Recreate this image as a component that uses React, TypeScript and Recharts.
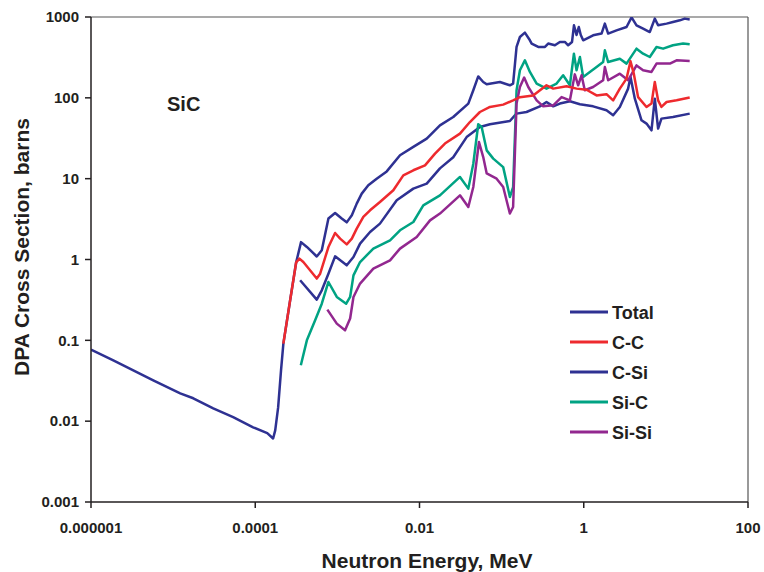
import React from 'react';
import { LineChart, Line, XAxis, YAxis, ReferenceLine } from 'recharts';

// [neutron energy (MeV), DPA cross section (barns)]
const totalPts: [number, number][] = [
  [1e-6, 0.0767], [1.87e-6, 0.0566], [5.73e-6, 0.032], [1.22e-5, 0.0221], [1.76e-5, 0.0192],
  [3.08e-5, 0.0144], [5.38e-5, 0.0112], [9.42e-5, 0.0084], [1.4e-4, 0.0071], [1.65e-4, 0.0061],
  [1.75e-4, 0.0077], [1.9e-4, 0.0148], [2.06e-4, 0.0426], [2.2e-4, 0.091], [2.66e-4, 0.313],
  [3.15e-4, 0.923], [3.61e-4, 1.64], [4.25e-4, 1.43], [5.61e-4, 1.09], [6.46e-4, 1.3],
  [7.78e-4, 3.21], [9.38e-4, 3.76], [1.13e-3, 3.21], [1.3e-3, 2.88], [1.5e-3, 3.52],
  [1.72e-3, 4.91], [1.98e-3, 6.53], [2.38e-3, 8.28], [3.01e-3, 10.0], [3.99e-3, 12.3],
  [5.79e-3, 19.5], [8.41e-3, 24.7], [0.01225, 31.3], [0.01774, 45.7], [0.02576, 57.9],
  [0.0393, 84.9], [0.0452, 124], [0.0519, 184], [0.0597, 157], [0.0658, 147],
  [0.0953, 157], [0.126, 143], [0.138, 150], [0.152, 426], [0.167, 566],
  [0.192, 641], [0.221, 515], [0.232, 469], [0.279, 426], [0.337, 426],
  [0.369, 469], [0.445, 447], [0.512, 491], [0.589, 491], [0.646, 447],
  [0.72, 491], [0.76, 789], [0.817, 600], [0.87, 752], [0.92, 600],
  [0.984, 515], [1.3, 594], [1.648, 624], [1.807, 828], [1.982, 624],
  [2.506, 684], [3.32, 752], [3.82, 990], [4.39, 789], [5.28, 718],
  [6.37, 652], [7.33, 955], [8.04, 789], [10.2, 828], [12.2, 867],
  [14.8, 910], [17.0, 955], [19.5, 929],
];

const ccPts: [number, number][] = [
  [2.2e-4, 0.091], [2.66e-4, 0.313], [3.15e-4, 0.923], [3.45e-4, 1.026], [3.85e-4, 0.931],
  [5.61e-4, 0.581], [6.17e-4, 0.668], [7.78e-4, 1.426], [9.38e-4, 2.13], [1.08e-3, 1.81],
  [1.3e-3, 1.54], [1.5e-3, 1.81], [1.72e-3, 2.41], [2.07e-3, 3.36], [2.5e-3, 4.06],
  [3.3e-3, 5.14], [4.8e-3, 7.18], [6.35e-3, 11.0], [8.41e-3, 12.7], [0.01167, 14.6],
  [0.01545, 20.4], [0.0204, 27.2], [0.0311, 36.1], [0.0411, 50.2], [0.0544, 66.8],
  [0.0721, 77.1], [0.1045, 82.4], [0.138, 93.1], [0.167, 102], [0.242, 107],
  [0.352, 143], [0.425, 130], [0.618, 139], [0.817, 130], [1.081, 126],
  [1.432, 107], [1.892, 111], [2.28, 93.1], [2.75, 130], [3.32, 173],
  [3.71, 283], [4.07, 199], [4.59, 102], [5.81, 77.1], [6.68, 84.9],
  [7.33, 157], [8.04, 93.1], [8.83, 77.1], [10.2, 88.8], [13.5, 93.1], [19.5, 101],
];

const csiPts: [number, number][] = [
  [3.52e-4, 0.553], [5.61e-4, 0.319], [6.46e-4, 0.416], [7.78e-4, 0.668], [9.38e-4, 1.094],
  [1.3e-3, 0.847], [1.57e-3, 1.074], [1.89e-3, 1.574], [2.5e-3, 2.19], [3.3e-3, 2.78],
  [5.28e-3, 5.4], [8.41e-3, 7.53], [0.01225, 8.69], [0.01774, 13.4], [0.02576, 18.4],
  [0.0375, 32.7], [0.0544, 43.5], [0.0721, 47.1], [0.126, 51.7], [0.145, 60.8],
  [0.152, 63.8], [0.201, 66.8], [0.292, 78.5], [0.352, 88.8], [0.425, 78.5],
  [0.512, 84.9], [0.678, 90.6], [0.898, 83.2], [1.3, 78.5], [1.892, 70.1],
  [2.28, 60.8], [2.75, 77.1], [3.47, 130], [3.71, 181], [4.19, 97.7],
  [5.05, 52.7], [5.81, 48.0], [6.68, 39.6], [7.33, 97.7], [8.04, 41.6],
  [8.83, 55.3], [12.2, 57.9], [19.5, 63.8],
];

const sicPts: [number, number][] = [
  [3.59e-4, 0.0491], [4.25e-4, 0.1], [5.36e-4, 0.177], [6.46e-4, 0.284], [7.78e-4, 0.527],
  [9.84e-4, 0.344], [1.28e-3, 0.284], [1.43e-3, 0.344], [1.57e-3, 0.637], [1.89e-3, 0.931],
  [2.74e-3, 1.364], [4.38e-3, 1.726], [5.79e-3, 2.3], [8.41e-3, 2.91], [0.01112, 4.68],
  [0.01774, 6.22], [0.0311, 10.5], [0.0393, 7.53], [0.0452, 15.3], [0.0519, 47.1],
  [0.0571, 43.5], [0.0658, 22.4], [0.0791, 17.7], [0.1045, 13.9], [0.126, 5.93],
  [0.138, 7.88], [0.152, 124], [0.167, 219], [0.192, 291], [0.221, 209],
  [0.267, 150], [0.352, 130], [0.467, 150], [0.561, 190], [0.678, 143],
  [0.759, 352], [0.817, 219], [0.898, 320], [0.984, 181], [1.432, 240],
  [1.722, 277], [1.807, 387], [1.982, 277], [2.75, 305], [3.32, 265],
  [4.39, 406], [5.28, 352], [6.37, 320], [7.69, 426], [9.25, 406],
  [12.2, 447], [16.2, 469], [19.5, 459],
];

const sisiPts: [number, number][] = [
  [7.55e-4, 0.24], [9.84e-4, 0.161], [1.24e-3, 0.133], [1.43e-3, 0.186], [1.57e-3, 0.344],
  [1.89e-3, 0.504], [2.74e-3, 0.771], [4.38e-3, 0.977], [5.79e-3, 1.364], [9.25e-3, 1.897],
  [0.01343, 3.05], [0.01774, 3.7], [0.0311, 6.22], [0.0393, 4.46], [0.0452, 7.88],
  [0.053, 28.4], [0.0597, 18.5], [0.0658, 11.6], [0.0869, 10.0], [0.1045, 7.88],
  [0.126, 3.7], [0.138, 4.46], [0.152, 84.9], [0.167, 136], [0.188, 178],
  [0.211, 136], [0.267, 93.1], [0.321, 78.5], [0.425, 80.9], [0.537, 102],
  [0.678, 93.1], [0.778, 195], [0.855, 143], [0.94, 190], [1.03, 124],
  [1.3, 136], [1.722, 165], [1.807, 240], [1.982, 165], [2.75, 199],
  [3.47, 165], [4.39, 252], [5.28, 219], [6.68, 209], [7.69, 265],
  [11.2, 265], [13.5, 291], [19.5, 286],
];

const xTicks = [0.000001, 0.0001, 0.01, 1, 100];
const xTickLabels = ['0.000001', '0.0001', '0.01', '1', '100'];
const yTicks = [0.001, 0.01, 0.1, 1, 10, 100, 1000];
const yTickLabels = ['0.001', '0.01', '0.1', '1', '10', '100', '1000'];

const seriesNames = ['Total', 'C-C', 'C-Si', 'Si-C', 'Si-Si'];
const seriesColors = ['#2E3192', '#EE2A2E', '#2E3192', '#00A383', '#92278F'];

const toRows = (pts: [number, number][]) => pts.map(([x, y]) => ({ x, y }));

const FONT = '"Liberation Sans", Arial, Helvetica, sans-serif';
const INK = '#231F20';

export default function App() {
  const seriesData = [totalPts, ccPts, csiPts, sicPts, sisiPts].map(toRows);
  // draw order: Total first, then others; C-C on top of the shared rise
  const order = [0, 2, 3, 4, 1];
  return (
    <div style={{ position: 'absolute', left: 0, top: 0, width: 764, height: 572, background: '#fff' }}>
      <LineChart width={764} height={572} margin={{ top: 17, right: 16, bottom: 0, left: 0 }}>
        <XAxis
          dataKey="x"
          type="number"
          scale="log"
          domain={[1e-6, 100]}
          allowDataOverflow
          ticks={xTicks}
          tickFormatter={(v: number) => xTickLabels[xTicks.findIndex((t) => Math.abs(Math.log10(t) - Math.log10(v)) < 1e-6)] ?? String(v)}
          height={70}
          tickSize={6}
          tickMargin={14}
          axisLine={{ stroke: INK, strokeWidth: 1.5 }}
          tickLine={{ stroke: INK, strokeWidth: 1.5 }}
          tick={{ fill: INK, fontSize: 15, fontWeight: 700, fontFamily: FONT }}
          interval={0}
        />
        <YAxis
          type="number"
          scale="log"
          domain={[0.001, 1000]}
          allowDataOverflow
          ticks={yTicks}
          tickFormatter={(v: number) => yTickLabels[yTicks.findIndex((t) => Math.abs(Math.log10(t) - Math.log10(v)) < 1e-6)] ?? String(v)}
          width={91}
          tickSize={6}
          tickMargin={6}
          axisLine={{ stroke: INK, strokeWidth: 1.5 }}
          tickLine={{ stroke: INK, strokeWidth: 1.5 }}
          tick={{ fill: INK, fontSize: 15, fontWeight: 700, fontFamily: FONT }}
          interval={0}
        />
        <ReferenceLine y={1000} stroke="#555" strokeWidth={1.2} />
        <ReferenceLine x={100} stroke="#555" strokeWidth={1.2} />
        {order.map((i) => (
          <Line
            key={seriesNames[i]}
            data={seriesData[i]}
            dataKey="y"
            type="linear"
            stroke={seriesColors[i]}
            strokeWidth={2.5}
            strokeLinejoin="round"
            dot={false}
            activeDot={false}
            isAnimationActive={false}
            name={seriesNames[i]}
          />
        ))}
      </LineChart>
      <svg width={764} height={572} style={{ position: 'absolute', left: 0, top: 0, pointerEvents: 'none' }}>
        <text x={427} y={568} textAnchor="middle" fontFamily={FONT} fontWeight={700} fontSize={21} fill={INK}>
          Neutron Energy, MeV
        </text>
        <text
          transform="translate(29,247) rotate(-90)"
          textAnchor="middle"
          fontFamily={FONT}
          fontWeight={700}
          fontSize={21}
          fill={INK}
        >
          DPA Cross Section, barns
        </text>
        <text x={167} y={111} fontFamily={FONT} fontWeight={700} fontSize={20} fill={INK}>
          SiC
        </text>
        {seriesNames.map((name, i) => (
          <g key={name}>
            <line x1={570} x2={608} y1={312 + i * 30} y2={312 + i * 30} stroke={seriesColors[i]} strokeWidth={3} />
            <text x={612} y={312 + i * 30 + 6.5} fontFamily={FONT} fontWeight={700} fontSize={18} fill={INK}>
              {name}
            </text>
          </g>
        ))}
      </svg>
    </div>
  );
}
